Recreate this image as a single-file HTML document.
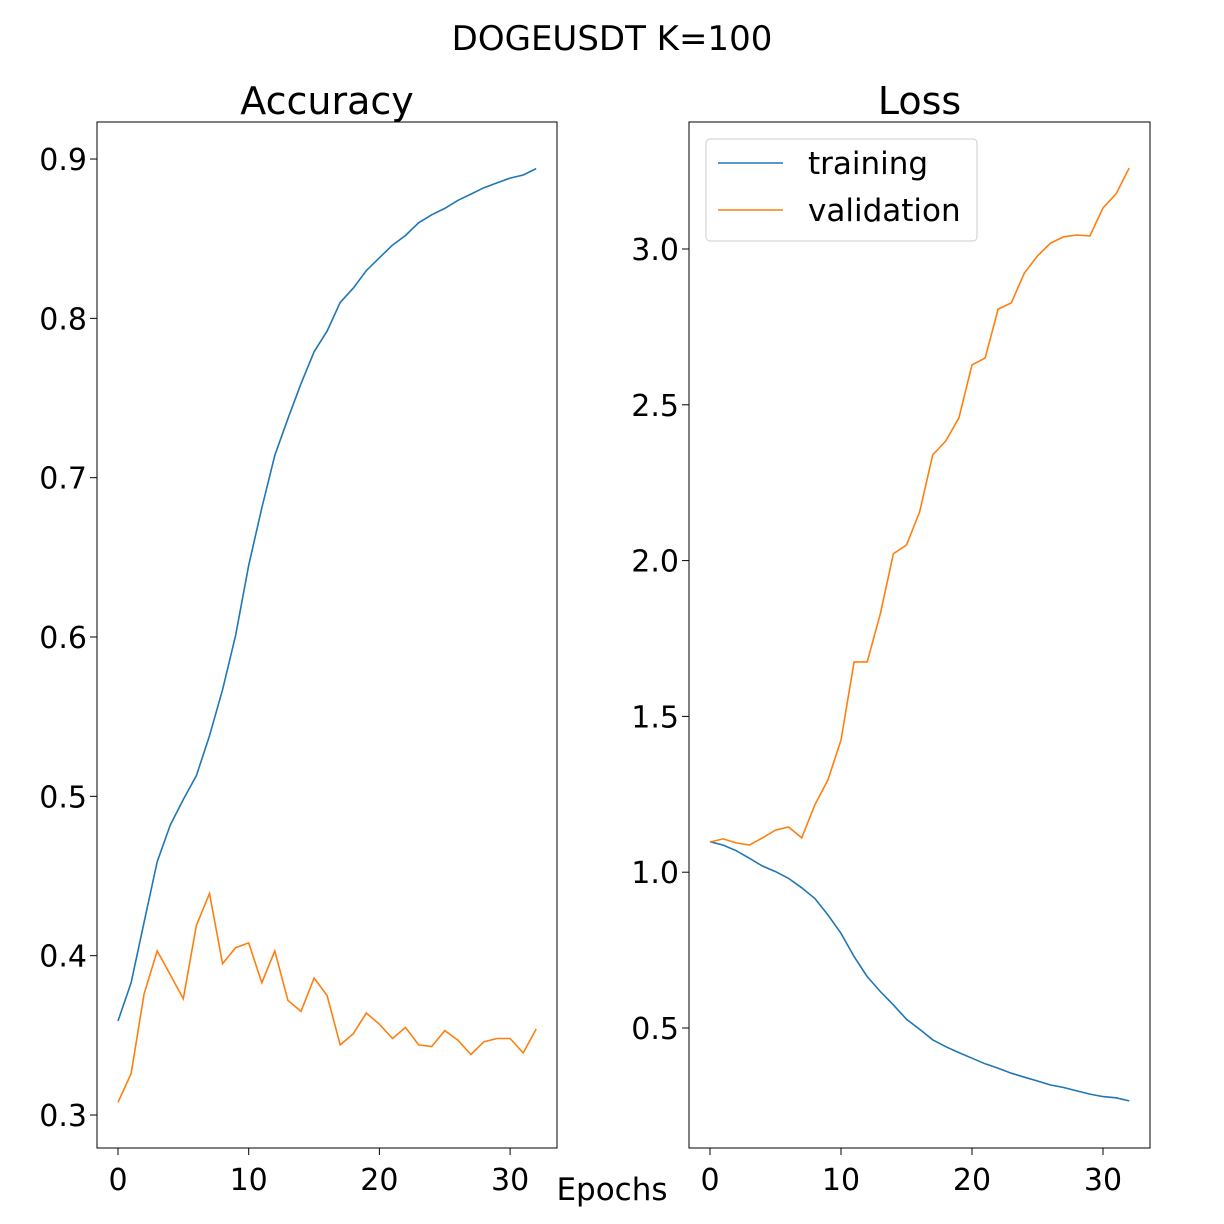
<!DOCTYPE html>
<html><head><meta charset="utf-8"><style>
html,body{margin:0;padding:0;background:#fff;}
svg{display:block;font-family:"DejaVu Sans","Liberation Sans",sans-serif;}
</style></head><body>
<svg id="chart" width="1224" height="1224" viewBox="0 0 1224 1224">
<rect width="1224" height="1224" fill="#fff"/>
<text x="612" y="50" font-size="34" text-anchor="middle">DOGEUSDT K=100</text>
<text x="612" y="1200" font-size="31" text-anchor="middle">Epochs</text>
</svg>
<script>
const epochs = Array.from({length:33},(_,i)=>i);
const accTrain = [0.359,0.383,0.421,0.459,0.482,0.498,0.513,0.538,0.567,0.601,0.645,0.681,0.714,0.737,0.759,0.779,0.792,0.810,0.819,0.830,0.838,0.846,0.852,0.860,0.865,0.869,0.874,0.878,0.882,0.885,0.888,0.890,0.894];
const accVal = [0.308,0.326,0.376,0.403,0.388,0.373,0.419,0.439,0.395,0.405,0.408,0.383,0.403,0.372,0.365,0.386,0.375,0.344,0.351,0.364,0.357,0.348,0.355,0.344,0.343,0.353,0.347,0.338,0.346,0.348,0.348,0.339,0.354];
const lossTrain = [1.098,1.087,1.069,1.045,1.020,1.002,0.980,0.950,0.916,0.863,0.804,0.729,0.665,0.617,0.574,0.528,0.496,0.462,0.440,0.421,0.403,0.385,0.371,0.355,0.342,0.330,0.317,0.309,0.298,0.288,0.280,0.276,0.266];
const lossVal = [1.097,1.107,1.094,1.087,1.110,1.135,1.145,1.110,1.216,1.296,1.424,1.675,1.675,1.829,2.022,2.050,2.156,2.339,2.384,2.458,2.628,2.650,2.807,2.827,2.923,2.978,3.019,3.039,3.045,3.042,3.132,3.177,3.260];
const xTicks = [0,10,20,30];
const accTicks = ["0.3","0.4","0.5","0.6","0.7","0.8","0.9"];
const lossTicks = ["0.5","1.0","1.5","2.0","2.5","3.0"];

const svg = document.getElementById('chart');
const NS = 'http://www.w3.org/2000/svg';
function mk(tag, attrs){const e=document.createElementNS(NS,tag);for(const k in attrs)e.setAttribute(k,attrs[k]);svg.appendChild(e);return e;}

function panel(name, box, xmap, ymap, yTicks, series, title){
  const r = mk('rect',{x:box.x,y:box.y,width:box.w,height:box.h,fill:'none',stroke:'#000','stroke-width':1});
  
  
  const t = mk('text',{x:box.x+box.w/2,y:box.y-8,'font-size':38,'text-anchor':'middle'});
  t.textContent = title;
  
  
  xTicks.forEach(v=>{
    const x = xmap(v);
    const l = mk('line',{x1:x,x2:x,y1:box.y+box.h,y2:box.y+box.h+7,stroke:'#000'});
    
    
    const tx = mk('text',{x:x,y:box.y+box.h+42,'font-size':30,'text-anchor':'middle'});
    tx.textContent = v;
    
    
  });
  yTicks.forEach(s=>{
    const y = ymap(parseFloat(s));
    const l = mk('line',{x1:box.x-7,x2:box.x,y1:y,y2:y,stroke:'#000'});
    
    
    const tx = mk('text',{x:box.x-10,y:y+11,'font-size':30,'text-anchor':'end'});
    tx.textContent = s;
    
    
  });
  series.forEach(s=>{
    const d = s.vals.map((v,i)=>(i?'L':'M')+xmap(epochs[i]).toFixed(1)+','+ymap(v).toFixed(1)).join(' ');
    const p = mk('path',{d:d,fill:'none',stroke:s.color,'stroke-width':1.6});
    
    
  });
}

const accBox={x:97,y:122,w:460,h:1026};
const accX = v=>118+v*13.07;
const accY = v=>1115-(v-0.3)*1593.3;
panel('accuracy', accBox, accX, accY, accTicks,
  [{key:'training',vals:accTrain,color:'#1f77b4'},{key:'validation',vals:accVal,color:'#ff7f0e'}],'Accuracy');

const lossBox={x:689,y:122,w:461,h:1026};
const lossX = v=>710+v*13.1;
const lossY = v=>1028-(v-0.5)*311.6;
panel('loss', lossBox, lossX, lossY, lossTicks,
  [{key:'training',vals:lossTrain,color:'#1f77b4'},{key:'validation',vals:lossVal,color:'#ff7f0e'}],'Loss');

const lg = mk('rect',{x:706,y:139,width:271,height:102,rx:4,fill:'#fff',stroke:'#ccc'});


[['training','#1f77b4',163],['validation','#ff7f0e',210]].forEach(([lab,c,y])=>{
  const l = mk('line',{x1:718,x2:783,y1:y,y2:y,stroke:c,'stroke-width':1.6});
  
  
  const t = mk('text',{x:808,y:y+11,'font-size':31});
  t.textContent = lab;
  
  
});
</script>
</body></html>
